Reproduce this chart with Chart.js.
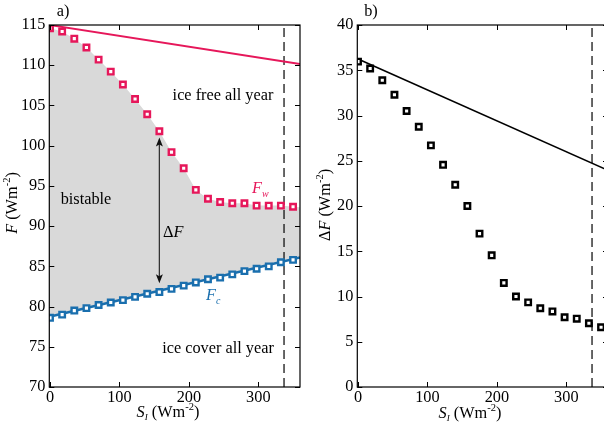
<!DOCTYPE html>
<html><head><meta charset="utf-8">
<script src="https://cdn.jsdelivr.net/npm/chart.js@4/dist/chart.umd.min.js"></script>
<style>
html,body{margin:0;padding:0;background:#fff;overflow:hidden;width:604px;height:425px;}
#wa{position:absolute;left:0;top:0;}
#wb{position:absolute;left:300px;top:0;}
</style></head><body>
<div id="wa"><canvas id="ca" width="310" height="425"></canvas></div>
<div id="wb"><canvas id="cb" width="320" height="425"></canvas></div>
<script>
// ---- data ----
const insolation = [0, 17.5, 35, 52.5, 70, 87.5, 105, 122.5, 140, 157.5, 175, 192.5, 210, 227.5, 245, 262.5, 280, 297.5, 315, 332.5, 350];
const forcingWarm = [114.6, 114.2, 113.3, 112.2, 110.7, 109.2, 107.6, 105.8, 103.9, 101.8, 99.2, 97.2, 94.5, 93.4, 93.0, 92.85, 92.85, 92.55, 92.55, 92.55, 92.4];
const forcingCold = [78.6, 79.0, 79.5, 79.8, 80.2, 80.5, 80.8, 81.2, 81.6, 81.8, 82.2, 82.6, 83.0, 83.4, 83.6, 84.0, 84.4, 84.7, 85.0, 85.5, 85.8];
const deltaF = [35.95, 35.2, 33.9, 32.3, 30.5, 28.75, 26.7, 24.55, 22.35, 20.0, 16.95, 14.55, 11.5, 10.0, 9.35, 8.7, 8.35, 7.7, 7.55, 7.05, 6.6];
const warmLineS = [0, 360];
const warmLineF = [115, 110.15];
const coldLineS = [-1, 360];
const coldLineF = [78.72, 86.1];
const dFLineS = [0, 360];
const dFLineV = [36.25, 23.95];
const grayEdgeS = [-1, 360];
const grayEdgeF = [115, 92.35];
const threshS = 337;
const arrowS = 157.5, arrowTop = 101.0, arrowBottom = 82.9;
const xTicks = [0, 100, 200, 300];
const yTicksA = [70, 75, 80, 85, 90, 95, 100, 105, 110, 115];
const yTicksB = [0, 5, 10, 15, 20, 25, 30, 35, 40];

const RED = '#e6175a', BLUE = '#1a6fae', GRAY = '#d9d9d9';
const SERIF = '"Liberation Serif", "DejaVu Serif", serif';
const FS = 16.3;

function pts(xs, ys){ return xs.map((x,i)=>({x:x, y:ys[i]})); }

function drawRich(ctx, parts, x, y, align){
  let w = 0;
  parts.forEach(p=>{ ctx.font = (p.it?'italic ':'') + (p.sz||FS) + 'px ' + SERIF; p.w = ctx.measureText(p.t).width; w += p.w + (p.gap||0); });
  let cx = align==='center' ? x - w/2 : (align==='right' ? x - w : x);
  ctx.textBaseline = 'alphabetic'; ctx.textAlign = 'left';
  parts.forEach(p=>{ ctx.font = (p.it?'italic ':'') + (p.sz||FS) + 'px ' + SERIF; ctx.fillStyle = p.c || '#000'; ctx.fillText(p.t, cx, y + (p.dy||0)); cx += p.w + (p.gap||0); });
}
function unitParts(){ return [{t:' (Wm'},{t:'-2', sz:10.5, dy:-7},{t:')'}]; }

function frameTicks(chart, yTicks){
  const ctx = chart.ctx, a = chart.chartArea, xs = chart.scales.x, ys = chart.scales.y;
  ctx.save();
  ctx.strokeStyle = '#000'; ctx.lineWidth = 1.2;
  ctx.strokeRect(a.left, a.top, a.right - a.left, a.bottom - a.top);
  ctx.lineWidth = 1;
  const L = 5;
  ctx.beginPath();
  xTicks.forEach(v=>{ const px = Math.round(xs.getPixelForValue(v))+0.5; ctx.moveTo(px, a.bottom); ctx.lineTo(px, a.bottom - L); ctx.moveTo(px, a.top); ctx.lineTo(px, a.top + L); });
  yTicks.forEach(v=>{ const py = Math.round(ys.getPixelForValue(v))+0.5; ctx.moveTo(a.left, py); ctx.lineTo(a.left + L, py); ctx.moveTo(a.right, py); ctx.lineTo(a.right - L, py); });
  ctx.stroke();
  ctx.restore();
}

function scalesCfg(yMin, yMax, yTicks, yWidth){
  return {
    x: { type:'linear', min:-1, max:360,
      grid:{display:false, drawTicks:false}, border:{display:false},
      afterBuildTicks: s => { s.ticks = xTicks.map(v=>({value:v})); },
      afterFit: s => { s.height = 38; },
      ticks:{ font:{family:SERIF, size:FS}, color:'#000', padding:1, maxRotation:0 } },
    y: { type:'linear', min:yMin, max:yMax,
      grid:{display:false, drawTicks:false}, border:{display:false},
      afterBuildTicks: s => { s.ticks = yTicks.map(v=>({value:v})); },
      afterFit: s => { s.width = yWidth; },
      ticks:{ font:{family:SERIF, size:FS}, color:'#000', padding:4 } }
  };
}

const common = { responsive:false, animation:false, devicePixelRatio:1,
  plugins:{ legend:{display:false}, tooltip:{enabled:false} } };

// ---- panel a ----
const grayTop = pts([grayEdgeS[0]].concat(insolation, [grayEdgeS[1]]), [grayEdgeF[0]].concat(forcingWarm, [grayEdgeF[1]]));
new Chart(document.getElementById('ca'), {
  type:'line',
  data:{ datasets:[
    { label:'Fw', data:pts(insolation, forcingWarm), showLine:false, pointStyle:'rect', pointRadius:3.9, borderWidth:2.4, borderColor:RED, backgroundColor:'#fff', order:0 },
    { label:'Fc', data:pts(insolation, forcingCold), showLine:false, pointStyle:'rect', pointRadius:3.9, borderWidth:2.4, borderColor:BLUE, backgroundColor:'#fff', order:1 },
    { label:'warm line', data:pts(warmLineS, warmLineF), borderColor:RED, borderWidth:1.8, pointRadius:0, order:2 },
    { label:'cold line', data:pts(coldLineS, coldLineF), borderColor:BLUE, borderWidth:2.6, pointRadius:0, order:3 },
    { label:'threshold', data:[{x:threshS,y:70},{x:threshS,y:115}], borderColor:'#000', borderWidth:1.2, borderDash:[9,5], pointRadius:0, order:4 },
    { label:'bistable', data:grayTop, borderWidth:0, borderColor:'rgba(0,0,0,0)', pointRadius:0, fill:{target:3}, backgroundColor:GRAY, order:10 }
  ]},
  options:Object.assign({}, common, {
    layout:{ padding:{ top:25, right:10, left:0, bottom:0 } },
    scales: scalesCfg(70, 115, yTicksA, 49.3)
  }),
  plugins:[{ id:'deco', afterDatasetsDraw(chart){
    const ctx = chart.ctx, xs = chart.scales.x, ys = chart.scales.y;
    // arrow
    const ax = xs.getPixelForValue(arrowS), at = ys.getPixelForValue(arrowTop), ab = ys.getPixelForValue(arrowBottom);
    ctx.save();
    ctx.strokeStyle = '#333'; ctx.fillStyle = '#111'; ctx.lineWidth = 1.3;
    ctx.beginPath(); ctx.moveTo(ax, at + 6); ctx.lineTo(ax, ab - 6); ctx.stroke();
    ctx.beginPath(); ctx.moveTo(ax, at); ctx.lineTo(ax - 3.5, at + 9); ctx.lineTo(ax, at + 7); ctx.lineTo(ax + 3.5, at + 9); ctx.closePath(); ctx.fill();
    ctx.beginPath(); ctx.moveTo(ax, ab); ctx.lineTo(ax - 3.5, ab - 9); ctx.lineTo(ax, ab - 7); ctx.lineTo(ax + 3.5, ab - 9); ctx.closePath(); ctx.fill();
    ctx.restore();
    frameTicks(chart, yTicksA);
    ctx.save();
    drawRich(ctx, [{t:'a)'}], 63, 16, 'center');
    drawRich(ctx, [{t:'ice free all year'}], 223, 100, 'center');
    drawRich(ctx, [{t:'bistable'}], 86, 204, 'center');
    drawRich(ctx, [{t:'\u0394'},{t:'F', it:true}], 163, 237, 'left');
    drawRich(ctx, [{t:'F', it:true, c:RED},{t:'w', it:true, sz:10, dy:4, c:RED}], 252, 193, 'left');
    drawRich(ctx, [{t:'F', it:true, c:BLUE},{t:'c', it:true, sz:10, dy:4, c:BLUE}], 206, 300, 'left');
    drawRich(ctx, [{t:'ice cover all year'}], 218, 353, 'center');
    drawRich(ctx, [{t:'S', it:true},{t:'I', it:true, sz:9, dy:3}].concat(unitParts()), 168, 417, 'center');
    ctx.translate(17, 203); ctx.rotate(-Math.PI/2);
    drawRich(ctx, [{t:'F', it:true}].concat(unitParts()), 0, 0, 'center');
    ctx.restore();
  }}]
});

// ---- panel b ----
new Chart(document.getElementById('cb'), {
  type:'line',
  data:{ datasets:[
    { label:'dF', data:pts(insolation, deltaF), showLine:false, pointStyle:'rect', pointRadius:3.9, borderWidth:2.4, borderColor:'#000', backgroundColor:'#fff', order:0 },
    { label:'dF line', data:pts(dFLineS, dFLineV), borderColor:'#000', borderWidth:1.6, pointRadius:0, order:1 },
    { label:'threshold', data:[{x:threshS,y:0},{x:threshS,y:40}], borderColor:'#000', borderWidth:1.2, borderDash:[9,5], pointRadius:0, order:2 }
  ]},
  options:Object.assign({}, common, {
    layout:{ padding:{ top:25, right:12, left:0, bottom:0 } },
    scales: scalesCfg(0, 40, yTicksB, 57.3)
  }),
  plugins:[{ id:'deco', afterDatasetsDraw(chart){
    const ctx = chart.ctx;
    frameTicks(chart, yTicksB);
    ctx.save();
    drawRich(ctx, [{t:'b)'}], 71, 16, 'center');
    drawRich(ctx, [{t:'S', it:true},{t:'I', it:true, sz:9, dy:3}].concat(unitParts()), 170, 418, 'center');
    ctx.translate(30, 205); ctx.rotate(-Math.PI/2);
    drawRich(ctx, [{t:'\u0394'},{t:'F', it:true}].concat(unitParts()), 0, 0, 'center');
    ctx.restore();
  }}]
});
</script>
</body></html>
